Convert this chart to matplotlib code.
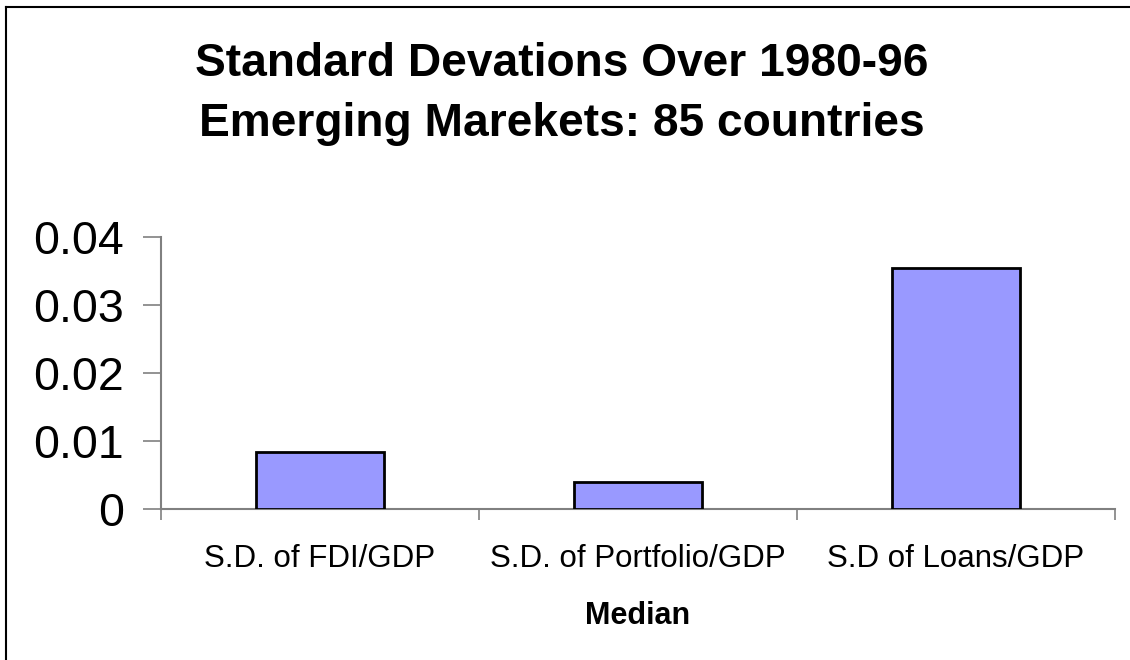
import matplotlib
matplotlib.use("Agg")
import matplotlib.pyplot as plt
from matplotlib.lines import Line2D

categories = ["S.D. of FDI/GDP", "S.D. of Portfolio/GDP", "S.D of Loans/GDP"]
values = [0.0084, 0.0039, 0.0355]
yticks = [0, 0.01, 0.02, 0.03, 0.04]
ytick_labels = ["0", "0.01", "0.02", "0.03", "0.04"]

plt.rcParams['font.family'] = ['Liberation Sans', 'DejaVu Sans']

fig = plt.figure(figsize=(11.3, 6.6), dpi=100)
ax = fig.add_axes([161/1130, 1 - 509/660, (1115 - 161)/1130, (509 - 237)/660])

x = list(range(len(categories)))
ax.bar(x, values, width=0.4, color="#9999ff", edgecolor="black", linewidth=2, zorder=3)

ax.set_xlim(-0.5, len(categories) - 0.5)
ax.set_ylim(0, 0.04)
ax.set_yticks(yticks)
ax.set_yticklabels(ytick_labels, fontsize=33.5)
ax.set_xticks(x)
ax.set_xticklabels(categories, fontsize=22.5)
ax.set_xticks([i - 0.5 for i in range(len(categories) + 1)], minor=True)
ax.tick_params(axis='x', which='major', length=0, pad=25.5)
ax.tick_params(axis='x', which='minor', length=8, width=1.2, color="#808080", direction='out')
ax.tick_params(axis='y', length=13, width=1.2, color="#808080", direction='out', pad=13.5)

for s in ["top", "right"]:
    ax.spines[s].set_visible(False)
for s in ["left", "bottom"]:
    ax.spines[s].set_color("#808080")
    ax.spines[s].set_linewidth(1.5)

ax.set_xlabel("Median", fontsize=22, fontweight="bold", labelpad=19)

fig.text(562/1130, 1 - 94/660, "Standard Devations Over 1980-96\nEmerging Marekets: 85 countries",
         ha="center", va="center", fontsize=33.2, fontweight="bold", linespacing=1.5)

# outer frame (top and left edges visible)
fig.add_artist(Line2D([6/1130, 6/1130], [0, 1 - 7/660], transform=fig.transFigure, color="black", linewidth=1.5))
fig.add_artist(Line2D([6/1130, 1], [1 - 7/660, 1 - 7/660], transform=fig.transFigure, color="black", linewidth=1.5))

fig.savefig("out.png", dpi=100)
